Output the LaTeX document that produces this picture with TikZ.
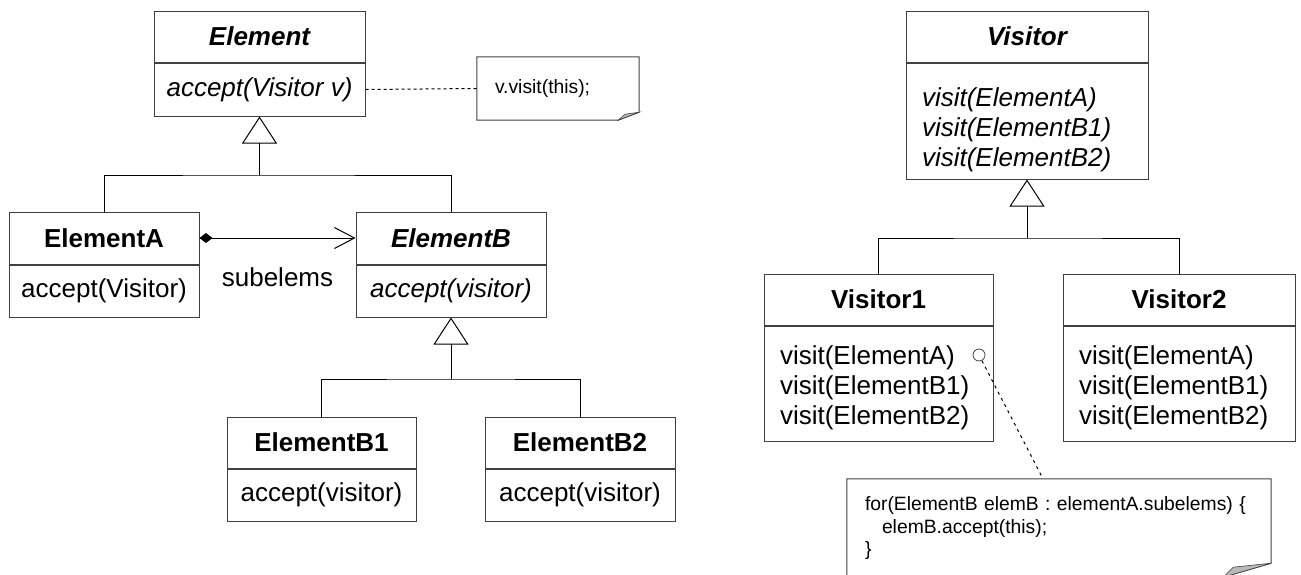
\documentclass[tikz,border=0pt]{standalone}
\usepackage{fontspec}
\setmainfont{Liberation Sans}
\usetikzlibrary{arrows.meta}

\newcommand{\umlfont}{\fontsize{26}{30}\selectfont}
\newcommand{\notefont}{\fontsize{19.3}{22}\selectfont}

\begin{document}
\begin{tikzpicture}[x=1pt,y=-1pt,
  ttl/.style={draw=black!75, line width=1pt, inner sep=0pt, minimum height=51pt, font=\umlfont\bfseries},
  opsc/.style={draw=black!75, line width=1pt, inner sep=0pt, anchor=north, font=\umlfont},
  ops3/.style={opsc, align=left, inner xsep=16pt, minimum height=115pt},
  notebox/.style={inner ysep=0pt, inner xsep=18pt, align=left, font=\notefont},
  noteline/.style={draw=black!75, line width=1pt},
  inherit/.style={line width=1pt, -{Triangle[open, length=27pt, width=35pt]}},
  line/.style={line width=1pt}]
  \useasboundingbox (0,0) rectangle (1301,574);

  % element hierarchy
  \node[ttl, minimum width=211pt] (elem) at (259.5,36.5) {\itshape Element};
  \node[opsc, minimum width=211pt, minimum height=53pt] (elem-op) at (elem.south) {\itshape accept(Visitor v)};

  \node[ttl, minimum width=190pt, minimum height=52pt] (elA) at (104,238) {ElementA};
  \node[opsc, minimum width=190pt, minimum height=52pt] (elA-op) at (elA.south) {accept(Visitor)};

  \node[ttl, minimum width=190pt, minimum height=52pt] (elB) at (451,238) {\itshape ElementB};
  \node[opsc, minimum width=190pt, minimum height=52pt] (elB-op) at (elB.south) {\itshape accept(visitor)};

  \node[ttl, minimum width=189pt] (elB1) at (321.5,442.5) {ElementB1};
  \node[opsc, minimum width=189pt, minimum height=52pt] (elB1-op) at (elB1.south) {accept(visitor)};

  \node[ttl, minimum width=190pt] (elB2) at (580,442.5) {ElementB2};
  \node[opsc, minimum width=190pt, minimum height=52pt] (elB2-op) at (elB2.south) {accept(visitor)};

  \coordinate (j1) at (259.5,175);
  \coordinate (j2) at (451,379);
  \draw[line] (elA.north) |- (j1) -| (elB.north);
  \draw[inherit] (j1) -- (elem-op.south);
  \draw[line] (elB1.north) |- (j2) -| (elB2.north);
  \draw[inherit] (j2) -- (elB-op.south);

  \draw[line, {Diamond[length=13pt, width=10pt]}-{Straight Barb[length=20pt, width=21pt]}]
    (elA.east) -- (elB.west) node[midway, below=29pt, inner sep=0pt, font=\umlfont] (subl) {subelems};

  % note on accept
  \node[notebox, minimum width=162pt, minimum height=63pt, text width=126pt] (note1) at (558,88.5) {v.visit(this);};
  \draw[noteline] (note1.north west) -- (note1.north east) -- ([yshift=8pt]note1.south east)
    -- ([xshift=-21pt]note1.south east) -- (note1.south west) -- cycle;
  \filldraw[fill=gray!55, draw=black!75, line width=0.6pt] ([yshift=8pt]note1.south east)
    -- ([xshift=-21pt]note1.south east) -- ([xshift=-14pt,yshift=6pt]note1.south east) -- cycle;
  \draw[line, dash pattern=on 3pt off 3pt] (elem-op.east) -- (note1.west);

  % visitor hierarchy
  \node[ttl, minimum width=242pt] (vis) at (1027,36.5) {\itshape Visitor};
  \node[ops3, minimum height=116pt, text width=210pt] (vis-op) at (vis.south)
    {\itshape\rule{0pt}{36pt}visit(ElementA)\\\itshape visit(ElementB1)\\\itshape visit(ElementB2)};

  \node[ttl, minimum width=229pt] (vis1) at (878.5,299.5) {Visitor1};
  \node[ops3, text width=197pt] (vis1-op) at (vis1.south)
    {\rule{0pt}{28pt}visit(ElementA)\\visit(ElementB1)\\visit(ElementB2)};

  \node[ttl, minimum width=232pt] (vis2) at (1179,299.5) {Visitor2};
  \node[ops3, text width=200pt] (vis2-op) at (vis2.south)
    {\rule{0pt}{28pt}visit(ElementA)\\visit(ElementB1)\\visit(ElementB2)};

  \coordinate (j3) at (1027,238);
  \draw[line] (vis1.north) |- (j3) -| (vis2.north);
  \draw[inherit] (j3) -- (vis-op.south);

  % note on visit
  \node[circle, draw=black!75, line width=0.8pt, minimum size=12pt, inner sep=0pt] (hook) at (979,355) {};
  \node[notebox, minimum width=424pt, minimum height=98pt, text width=388pt] (note2) at (1059,528)
    {for(ElementB elemB : elementA.subelems) \{\\\hspace*{17pt}elemB.accept(this);\\\}};
  \draw[noteline] (note2.north west) -- (note2.north east) -- ([yshift=14pt]note2.south east)
    -- ([xshift=-48pt]note2.south east) -- (note2.south west) -- cycle;
  \filldraw[fill=gray!55, draw=black!75, line width=0.6pt] ([yshift=14pt]note2.south east)
    -- ([xshift=-48pt]note2.south east) -- ([xshift=-38pt,yshift=10pt]note2.south east) -- cycle;
  \draw[line, dash pattern=on 3pt off 4pt] (hook) -- ([xshift=-16pt]note2.north);
\end{tikzpicture}
\end{document}
